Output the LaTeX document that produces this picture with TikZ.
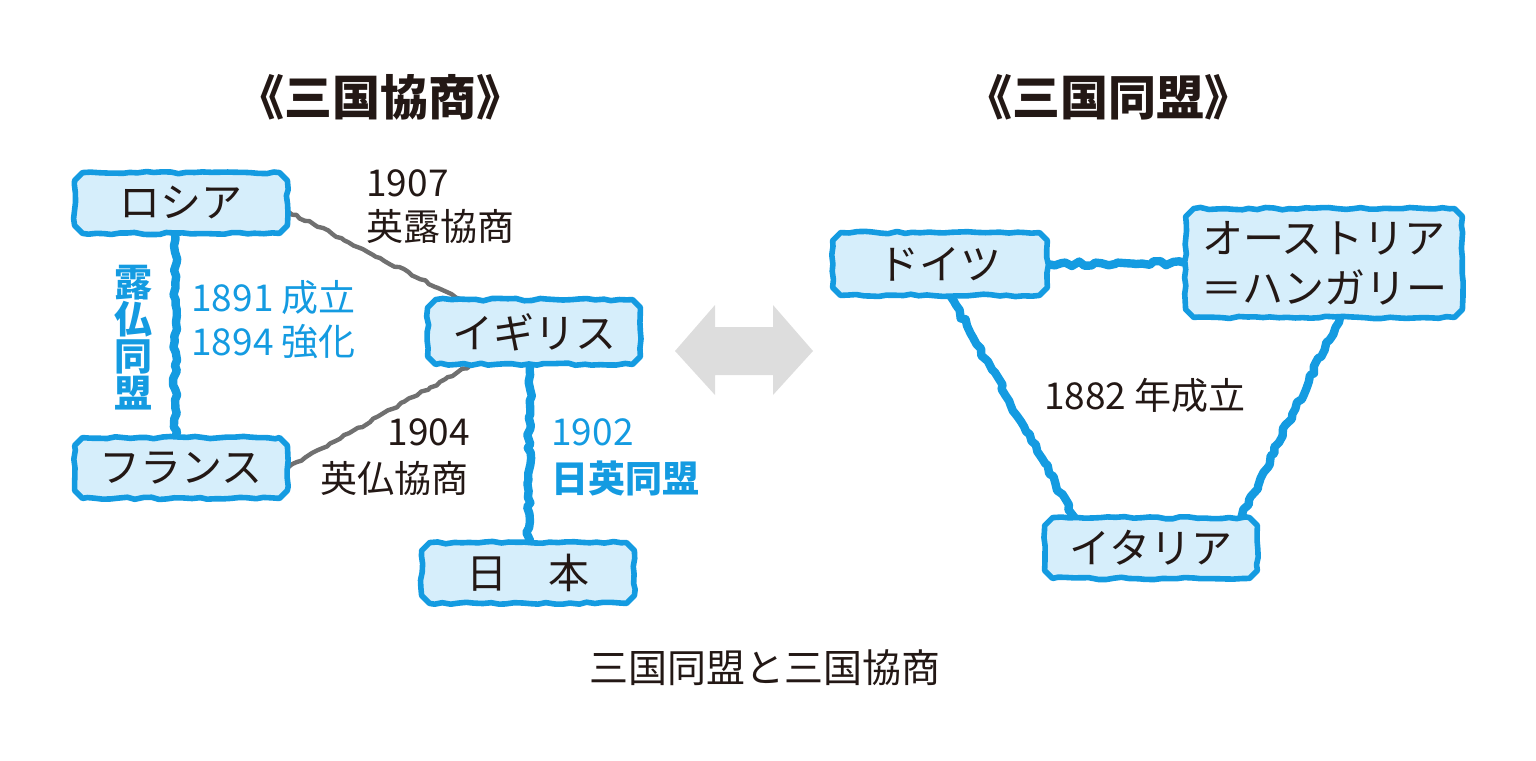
\documentclass[tikz,border=0pt]{standalone}
\usepackage{fontspec}
\setmainfont{Noto Sans CJK JP}
\usetikzlibrary{decorations.pathmorphing,backgrounds}
\definecolor{kblue}{RGB}{20,155,225}
\definecolor{kfill}{RGB}{214,238,251}
\definecolor{kgray}{RGB}{112,112,112}
\definecolor{kblack}{RGB}{35,24,21}
\definecolor{karrow}{RGB}{221,221,221}
\tikzset{
  country/.style={text=kblack, font=\fontsize{20.5}{25}\selectfont,
    minimum width=106pt, minimum height=30pt, inner sep=0pt, align=center},
  boxline/.style={draw=kblue, fill=kfill, line width=2.8pt, line join=round,
    decorate, decoration={random steps, segment length=4pt, amplitude=0.6pt}},
  blueline/.style={draw=kblue, line width=4.2pt, line join=round, line cap=round,
    decorate, decoration={random steps, segment length=3pt, amplitude=1.1pt}},
  grayline/.style={draw=kgray, line width=2.2pt, line join=round, line cap=round,
    decorate, decoration={random steps, segment length=2.5pt, amplitude=0.6pt}},
  lbl/.style={inner sep=0pt, text=kblack, font=\fontsize{18.5}{22}\selectfont},
  blbl/.style={lbl, text=kblue},
  title/.style={inner sep=0pt, text=kblack, font=\fontsize{24}{28}\selectfont\bfseries},
}
\newcommand\wbox[1]{%
  \filldraw[boxline] ([xshift=4pt]#1.north west) -- ([xshift=-4pt]#1.north east)
   -- ([yshift=-4pt]#1.north east) -- ([yshift=4pt]#1.south east)
   -- ([xshift=-4pt]#1.south east) -- ([xshift=4pt]#1.south west)
   -- ([yshift=4pt]#1.south west) -- ([yshift=-4pt]#1.north west) -- cycle;}
\begin{document}
\pgfmathsetseed{7}
\begin{tikzpicture}[x=0.5pt,y=-0.5pt]
\useasboundingbox (0,0) rectangle (1536,760);
% titles
\node[title] (t1) at (380,97) {《三国協商》};
\node[title] (t2) at (1108,97) {《三国同盟》};
% boxes
\node[country] (russia) at (181,203) {ロシア};
\node[country] (france) at (181,468) {フランス};
\node[country, minimum height=32pt] (uk) at (534,332) {イギリス};
\node[country] (japan) at (528,573) {日　本};
\node[country, minimum width=107pt, minimum height=31pt] (germany) at (940,264) {ドイツ};
\node[country, minimum width=138pt, minimum height=54pt] (austria) at (1324,263) {オーストリア\\＝ハンガリー};
\node[country] (italy) at (1151,548) {イタリア};
% connectors and box frames behind the texts
\begin{scope}[on background layer]
\draw[blueline] ([xshift=-3pt]russia.south) -- ([xshift=-3pt]france.north);
\draw[grayline] ([yshift=-4pt]russia.east) -- ([xshift=17pt]uk.north west);
\draw[grayline] (france.east) -- ([xshift=22pt]uk.south west);
\draw[blueline] ([xshift=-2pt]uk.south) -- (japan.north);
\draw[blueline] (germany.east) -- (austria.west);
\draw[blueline] ([xshift=5pt]germany.south) -- ([xshift=15pt]italy.north west);
\draw[blueline] ([xshift=8pt]austria.south) -- ([xshift=-8pt]italy.north east);
\wbox{russia}
\wbox{france}
\wbox{uk}
\wbox{japan}
\wbox{germany}
\wbox{austria}
\wbox{italy}
\end{scope}
% labels
\node[lbl, anchor=west] (l1907) at (366,183) {1907};
\node[lbl, anchor=west] (leiro) at (366,226) {英露協商};
\node[blbl, anchor=west] (l1891) at (191,298) {1891 成立};
\node[blbl, anchor=west] (l1894) at (191,342) {1894 強化};
\node[blbl, align=center, font=\fontsize{19}{18.5}\selectfont\bfseries] (rofutsu) at (133,338) {露\\仏\\同\\盟};
\node[lbl, anchor=east] (l1904) at (470,432) {1904};
\node[lbl, anchor=east] (leifutsu) at (469,478) {英仏協商};
\node[blbl, anchor=west] (l1902) at (551,432) {1902};
\node[blbl, anchor=west, font=\fontsize{18.5}{22}\selectfont\bfseries] (nichiei) at (551,478) {日英同盟};
\node[lbl] (l1882) at (1145,395) {1882 年成立};
\node[lbl, font=\fontsize{19.5}{24}\selectfont] (caption) at (765,668) {三国同盟と三国協商};
% central double arrow
\fill[karrow] (675,351) -- (715,305) -- (715,327) -- (773,327) -- (773,305) -- (813,351)
  -- (773,395) -- (773,375) -- (715,375) -- (715,395) -- cycle;
\end{tikzpicture}
\end{document}
